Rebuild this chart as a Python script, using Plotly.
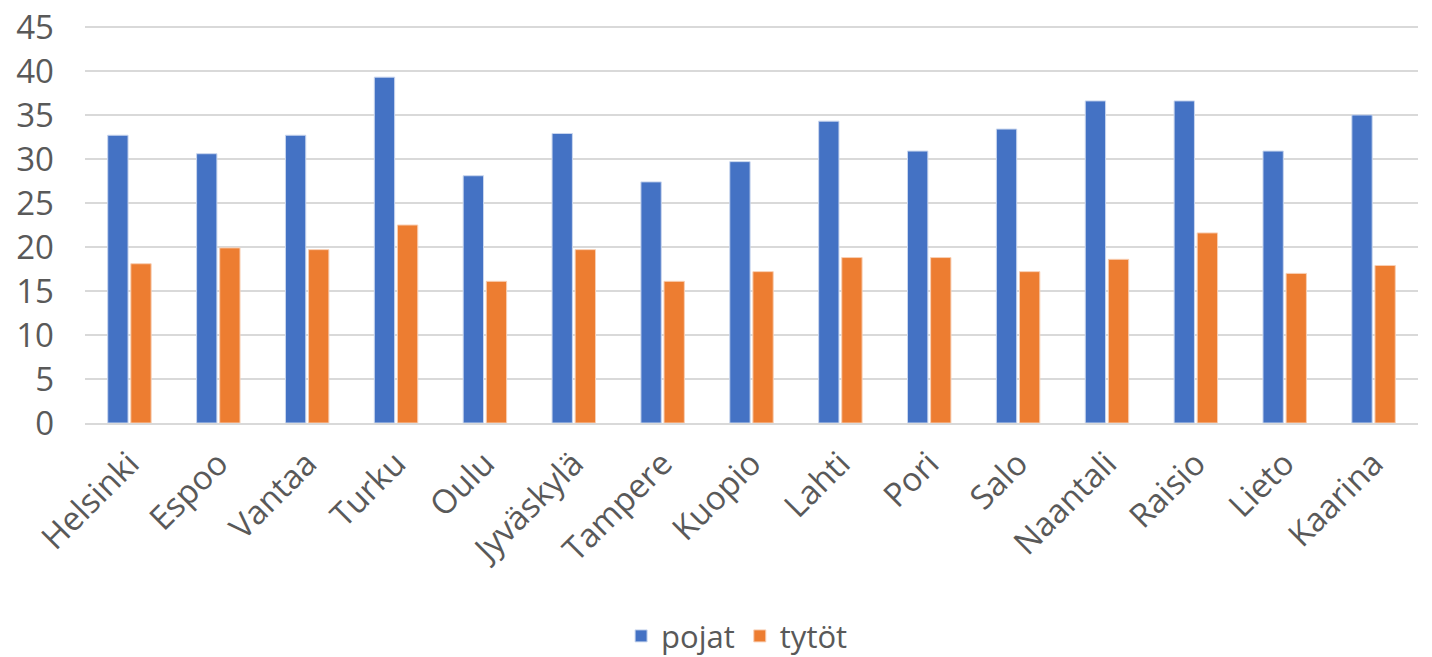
import plotly.graph_objects as go

cities = ["Helsinki", "Espoo", "Vantaa", "Turku", "Oulu", "Jyväskylä", "Tampere",
          "Kuopio", "Lahti", "Pori", "Salo", "Naantali", "Raisio", "Lieto", "Kaarina"]
pojat = [32.7, 30.6, 32.7, 39.3, 28.1, 32.9, 27.4, 29.7, 34.3, 30.9, 33.4, 36.6, 36.6, 30.9, 35.0]
tytot = [18.1, 19.9, 19.7, 22.5, 16.1, 19.7, 16.1, 17.2, 18.8, 18.8, 17.2, 18.6, 21.6, 17.0, 17.9]
y_ticks = [0, 5, 10, 15, 20, 25, 30, 35, 40, 45]

FONT = "Open Sans"
GREY = "#595959"

fig = go.Figure()
fig.add_trace(go.Bar(name="pojat", x=cities, y=pojat,
                     marker=dict(color="#4472C4", line=dict(color="#c9d6ee", width=1))))
fig.add_trace(go.Bar(name="tytöt", x=cities, y=tytot,
                     marker=dict(color="#ED7D31", line=dict(color="#f8cfb4", width=1))))

fig.update_layout(
    width=1424, height=649,
    margin=dict(l=77, r=14, t=16, b=234, autoexpand=False),
    paper_bgcolor="white", plot_bgcolor="white",
    barmode="group", bargap=0.48, bargroupgap=0.12,
    font=dict(family=FONT, size=32, color=GREY),
    legend=dict(orientation="h", x=0.512, xanchor="center", xref="container",
                y=0.032, yanchor="middle", yref="container",
                font=dict(family=FONT, size=31, color=GREY), itemwidth=30,
                traceorder="normal"),
    xaxis=dict(tickangle=-45, showgrid=False, showline=True, linecolor="#d9d9d9", linewidth=2,
               ticks="", automargin=False, ticklabelstandoff=6, ticklabeloverflow="allow",
               tickfont=dict(family=FONT, size=33, color=GREY)),
    yaxis=dict(range=[0, 45.34], tickvals=y_ticks,
               showgrid=True, gridcolor="#d9d9d9", gridwidth=2,
               zeroline=False, showline=False, ticks="", automargin=False,
               ticklabelstandoff=30, ticklabeloverflow="allow",
               tickfont=dict(family=FONT, size=33, color=GREY)),
)

fig.write_html("out.html")
